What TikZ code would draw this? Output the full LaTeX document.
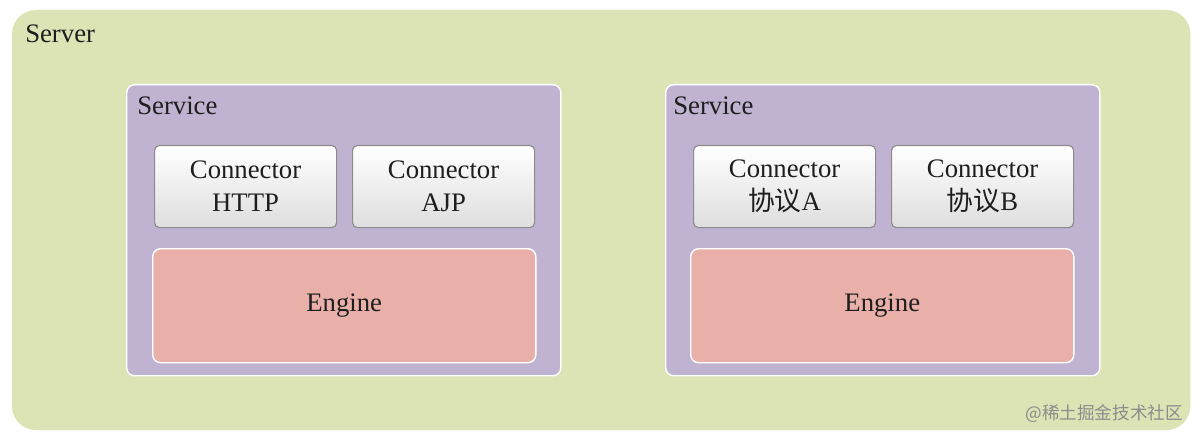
\documentclass[tikz,border=0pt]{standalone}
\usepackage{fontspec}
\setmainfont{Liberation Serif}
\newfontfamily\cjk{Noto Sans CJK SC}
\usepackage{tikz}
\usetikzlibrary{positioning}
\definecolor{srvgreen}{HTML}{DCE3B5}
\definecolor{svclilac}{HTML}{C0B3D1}
\definecolor{engsalmon}{HTML}{E8B0A9}
\definecolor{conedge}{HTML}{8C8C8C}
\definecolor{txtink}{HTML}{1E1E1E}

\tikzset{
  serverbox/.style={fill=srvgreen,rounded corners=0.6cm,anchor=north west,inner sep=0pt,outer sep=0pt,
    minimum width=29.45cm,minimum height=10.5cm},
  svcbox/.style={draw=white,line width=1pt,fill=svclilac,rounded corners=0.2cm,anchor=north west,inner sep=0pt,
    minimum width=10.85cm,minimum height=7.275cm},
  conbox/.style={draw=conedge,line width=0.8pt,top color=white,bottom color=black!13,rounded corners=0.12cm,
    anchor=north west,inner sep=0pt,minimum width=4.55cm,minimum height=2.05cm,
    align=center,font=\fontsize{19}{23.5}\selectfont,text=txtink},
  engbox/.style={draw=white,line width=1pt,fill=engsalmon,rounded corners=0.2cm,anchor=north west,inner sep=0pt,
    minimum width=9.575cm,minimum height=2.85cm,font=\fontsize{19}{23.5}\selectfont,text=txtink},
  boxlabel/.style={anchor=base west,inner sep=0pt,font=\fontsize{19}{23.5}\selectfont,text=txtink},
}

\begin{document}
\begin{tikzpicture}[x=0.025cm,y=-0.025cm]
  \useasboundingbox[fill=white] (0,0) rectangle (1200,439);

  % server
  \node[serverbox] (server) at (12,10) {};
  \node[boxlabel] (serverlbl) at (25,43) {Server};

  % left service
  \node[svcbox] (svcL) at (126,84) {};
  \node[boxlabel] (svcLlbl) at (137,115) {Service};
  \node[conbox] (conHttp) at (154,145) {Connector\\HTTP};
  \node[conbox] (conAjp) at (352,145) {Connector\\AJP};
  \node[engbox] (engL) at (152,248) {Engine};

  % right service
  \node[svcbox] (svcR) at (665,84) {};
  \node[boxlabel] (svcRlbl) at (673,115) {Service};
  \node[conbox] (conA) at (693,145) {Connector\\{\cjk 协议}A};
  \node[conbox] (conB) at (891,145) {Connector\\{\cjk 协议}B};
  \node[engbox] (engR) at (690,248) {Engine};

  % watermark
  \node[anchor=base east,inner sep=0pt,text=black!45,font=\cjk\fontsize{12.5}{14}\selectfont] (mark) at (1183,419) {@稀土掘金技术社区};
\end{tikzpicture}
\end{document}
